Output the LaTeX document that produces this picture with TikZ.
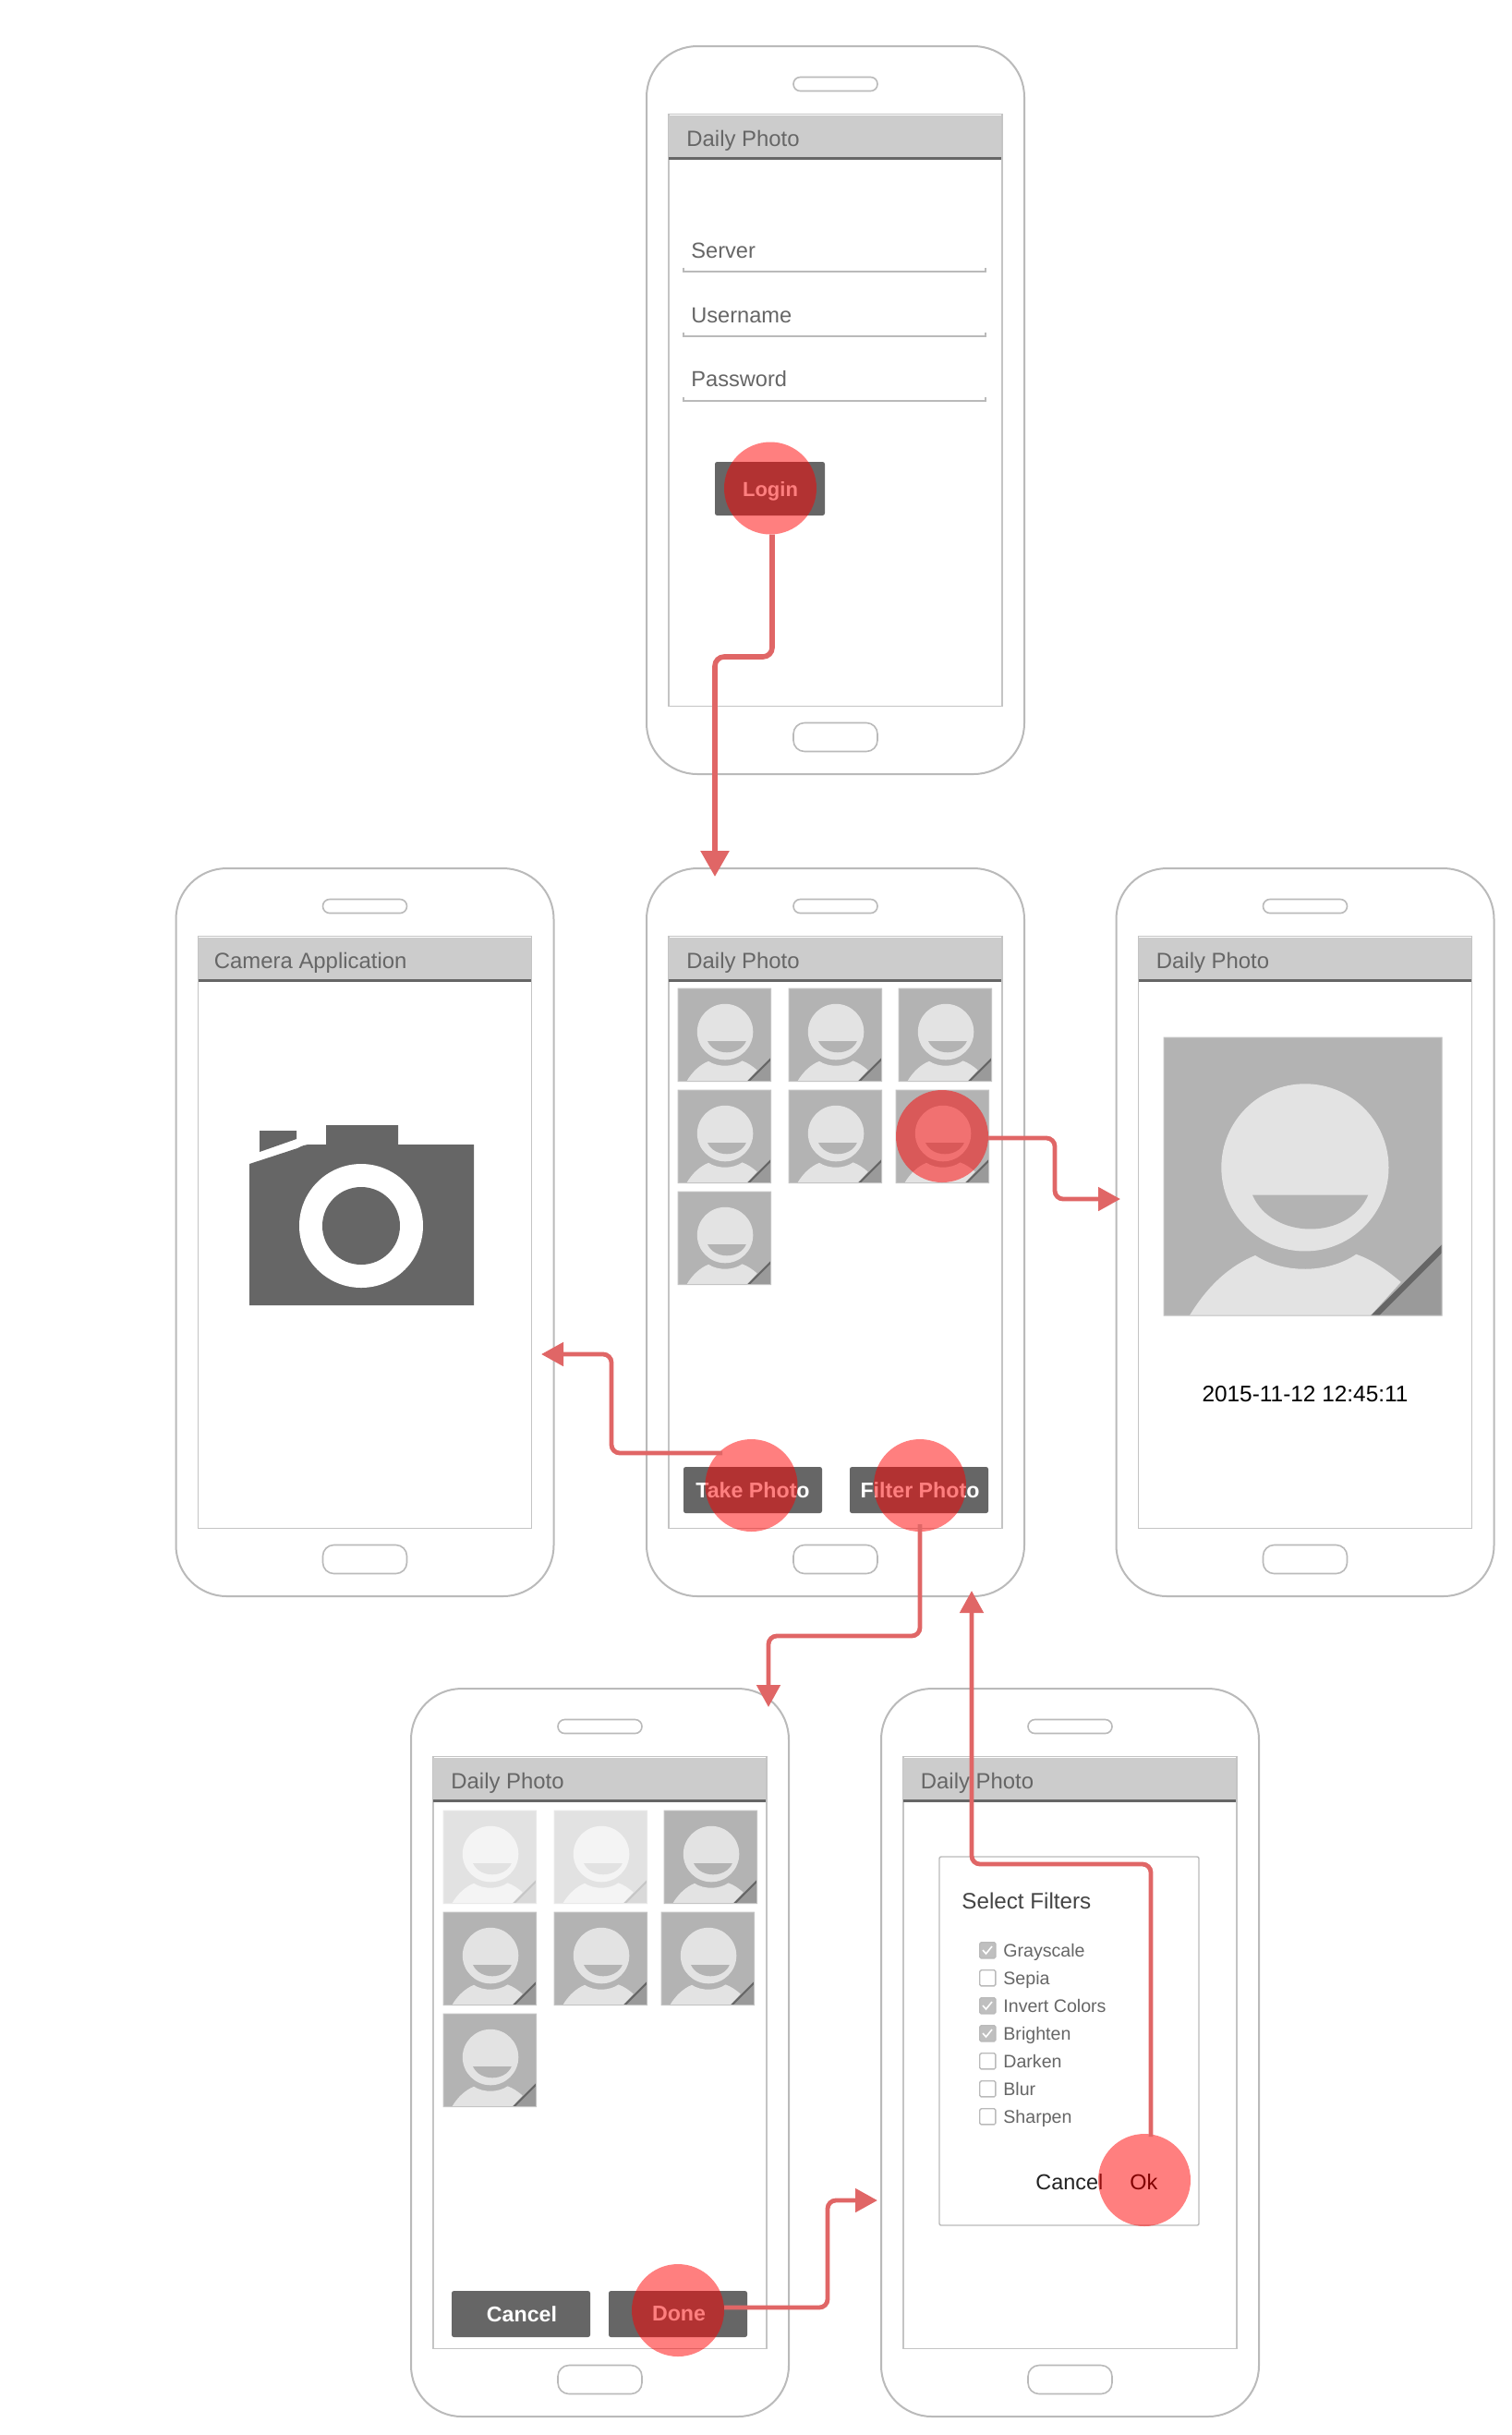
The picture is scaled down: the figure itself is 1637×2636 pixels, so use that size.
\documentclass[tikz,border=0pt]{standalone}
\usepackage{fontspec}
\setmainfont{Liberation Sans}
\usetikzlibrary{arrows.meta}
\definecolor{edge}{HTML}{BABABA}
\definecolor{screenedge}{HTML}{C4C4C4}
\definecolor{barfill}{HTML}{CCCCCC}
\definecolor{ink}{HTML}{666666}
\definecolor{darkink}{HTML}{444444}
\definecolor{nearblack}{HTML}{222222}
\definecolor{thumbbg}{HTML}{B3B3B3}
\definecolor{thumbfg}{HTML}{E3E3E3}
\definecolor{thumbfold}{HTML}{9A9A9A}
\definecolor{connred}{HTML}{E06666}
\definecolor{checkfill}{HTML}{BFBFBF}
\tikzset{
  phonebody/.style={draw=edge,line width=1pt,rounded corners=27.5pt,minimum width=204.5pt,minimum height=394pt,anchor=north west,inner sep=0pt,outer sep=0pt},
  screenbox/.style={draw=screenedge,line width=.7pt,minimum width=180.5pt,minimum height=320.5pt,anchor=north west,inner sep=0pt,outer sep=0pt},
  titlebar/.style={fill=barfill,minimum width=180pt,minimum height=23.5pt,anchor=north west,inner sep=0pt,outer sep=0pt},
  speaker/.style={draw=edge,line width=.8pt,rounded corners=3.7pt,minimum width=45.5pt,minimum height=7.5pt,anchor=north west,inner sep=0pt,outer sep=0pt},
  homebtn/.style={draw=edge,line width=.8pt,rounded corners=6pt,minimum width=45.5pt,minimum height=15.5pt,anchor=north west,inner sep=0pt,outer sep=0pt},
  titletext/.style={anchor=base west,inner sep=0pt,text=ink,font=\fontsize{11.95}{14}\selectfont},
  fieldtext/.style={anchor=base west,inner sep=0pt,text=ink,font=\fontsize{11.8}{14}\selectfont},
  filterlabel/.style={anchor=base west,inner sep=0pt,text=ink,font=\fontsize{9.8}{12}\selectfont},
  btn/.style={fill=ink,rounded corners=1.2pt,anchor=north west,inner sep=0pt,outer sep=0pt,minimum width=75pt,minimum height=25pt},
  btntext/.style={inner sep=0pt,text=white,font=\fontsize{11.6}{14}\selectfont\bfseries},
  tap/.style={circle,fill=red,fill opacity=.5,draw=none,minimum size=50pt,inner sep=0pt,outer sep=0pt},
  conn/.style={draw=connred,line width=2.4pt,rounded corners=4.5pt,-{Triangle[length=12pt,width=12.5pt,fill=connred]}},
  connbig/.style={draw=connred,line width=2.8pt,rounded corners=5pt,-{Triangle[length=14pt,width=15pt,fill=connred]}},
  checkbox/.style={draw=edge,line width=.7pt,rounded corners=.8pt,minimum size=8.6pt,inner sep=0pt,anchor=north west},
}
\newcommand{\phonebox}[5][43]{% title offset; name, x, y, title
  \node[phonebody] (#2) at (#3,#4) {};
  \node[speaker] (#2spk) at ({#3+159},{#4+33.5}) {};
  \node[homebtn] (#2home) at ({#3+159},{#4+732.5}) {};
  \node[screenbox] (#2scr) at ({#3+24},{#4+73.5}) {};
  \node[titlebar] (#2bar) at ({#3+24},{#4+74.5}) {};
  \draw[ink,line width=1.25pt] ({#3+24},{#4+121.5}) -- ({#3+384},{#4+121.5});
  \node[titletext] (#2title) at ({#3+#1},{#4+108}) {#5};
}
\newcommand{\thumbpic}[4]{% x, y, size, opacity
  \begin{scope}[shift={(#1,#2)},x=#3*0.5pt,y=-#3*0.5pt,opacity=#4,transparency group]
    \fill[thumbbg] (0,0) rectangle (1,1);
    \fill[thumbfg] (.508,.468) circle[radius=.301];
    \fill[thumbbg] (.319,.567) .. controls (.39,.73) and (.665,.73) .. (.735,.567) -- cycle;
    \fill[thumbfg] (.093,1) .. controls (.16,.89) and (.24,.82) .. (.329,.784)
       .. controls (.43,.85) and (.59,.85) .. (.692,.78)
       .. controls (.75,.80) and (.80,.835) .. (.853,.88) -- (.744,1) -- cycle;
    \fill[thumbfold] (1,.775) -- (1,1) -- (.775,1) -- cycle;
    \fill[ink] (1,.745) -- (1,.775) -- (.775,1) -- (.745,1) -- cycle;
    \draw[screenedge,line width=.5pt] (0,0) rectangle (1,1);
  \end{scope}
}
\newcommand{\filterrow}[4]{% name, y, label, checked
  \ifnum#4=1
    \node[checkbox,fill=checkfill] (#1box) at (1060,#2) {};
    \draw[white,line width=.8pt] (1064,{#2+9}) -- (1067.5,{#2+13}) -- (1074,{#2+5});
  \else
    \node[checkbox] (#1box) at (1060,#2) {};
  \fi
  \node[filterlabel] (#1) at (1086,{#2+16}) {#3};
}
\begin{document}
\begin{tikzpicture}[x=0.5pt,y=-0.5pt]
\useasboundingbox (0,0) rectangle (1637,2636);
\fill[white] (0,0) rectangle (1637,2636);

% phones
\phonebox{login}{700}{50}{Daily Photo}
\phonebox{grid}{700}{940}{Daily Photo}
\phonebox[41]{camera}{190.5}{940}{Camera Application}
\phonebox{detail}{1208.5}{940}{Daily Photo}
\phonebox{pick}{445}{1828}{Daily Photo}
\phonebox[42.5]{filters}{954}{1828}{Daily Photo}

% login screen
\node[fieldtext] (srv) at (748,279) {Server};
\node[fieldtext] (usr) at (748,349) {Username};
\node[fieldtext] (pwd) at (748,418.5) {Password};
\foreach \ly in {293.5,363.5,433.5}{
  \draw[edge,line width=1pt] (739.5,\ly-4) -- (739.5,\ly) -- (1067,\ly) -- (1067,\ly-4);
}
\node[btn,minimum width=59.5pt,minimum height=29pt] (loginbtn) at (774,500) {};
\node[btntext,font=\fontsize{11}{14}\selectfont\bfseries] (logintxt) at (834,532) {Login};
\node[tap] (tapLogin) at (834,528.5) {};

% grid
\foreach \tx/\ty in {734/1070,854/1070,973/1070,734/1180,854/1180,970/1180,734/1290}{
  \thumbpic{\tx}{\ty}{100.5}{1}
}
\node[btn] (takebtn) at (740,1588) {};
\node[btntext] (taketxt) at (815,1613) {Take Photo};
\node[btn] (filterbtn) at (920,1588) {};
\node[btntext] (filtertxt) at (996,1613) {Filter Photo};
\node[tap] (tapThumb) at (1020,1230) {};
\node[tap] (tapTake) at (813.5,1608) {};
\node[tap] (tapFilter) at (996,1608) {};

% camera
\fill[ink] (270,1260) -- (322,1243) .. controls (328,1240) and (330,1239) .. (337,1239) -- (353,1239) -- (353,1218) -- (431,1218) -- (431,1239) -- (513,1239) -- (513,1413) -- (270,1413) -- cycle;
\fill[ink] (281,1224) -- (321,1224) -- (321,1233) -- (281,1247) -- cycle;
\fill[white] (391,1327) circle[radius=67];
\fill[ink] (391,1327) circle[radius=42];

% detail
\thumbpic{1260}{1123}{301}{1}
\node[anchor=center,inner sep=0pt,text=black,font=\fontsize{12.2}{14}\selectfont] (stamp) at (1413,1509) {2015-11-12 12:45:11};

% pick
\foreach \tx/\ty/\op in {480/1960/.37,600/1960/.37,719/1960/1,480/2070/1,600/2070/1,716/2070/1,480/2180/1}{
  \thumbpic{\tx}{\ty}{100.5}{\op}
}
\node[btn] (cancelbtn) at (489,2480) {};
\node[btntext] (canceltxt) at (565,2505) {Cancel};
\node[btn] (donebtn) at (659,2480) {};
\node[btntext] (donetxt) at (735,2505) {Done};
\node[tap] (tapDone) at (734,2501) {};

% filters dialog
\node[draw=edge,line width=.7pt,rounded corners=1pt,minimum width=140.5pt,minimum height=199.5pt,anchor=north west,inner sep=0pt,outer sep=0pt] (dialog) at (1017,2010) {};
\node[anchor=base west,inner sep=0pt,text=darkink,font=\fontsize{12.1}{14}\selectfont] (seltitle) at (1041,2066) {Select Filters};
\filterrow{fgray}{2102}{Grayscale}{1}
\filterrow{fsepia}{2132}{Sepia}{0}
\filterrow{finvert}{2162}{Invert Colors}{1}
\filterrow{fbright}{2192}{Brighten}{1}
\filterrow{fdark}{2222}{Darken}{0}
\filterrow{fblur}{2252}{Blur}{0}
\filterrow{fsharp}{2282}{Sharpen}{0}
\node[anchor=base west,inner sep=0pt,text=nearblack,font=\fontsize{11.7}{14}\selectfont] (cncl) at (1121,2370) {Cancel};
\node[anchor=base west,inner sep=0pt,text=black,font=\fontsize{11.7}{14}\selectfont] (okt) at (1223,2370) {Ok};
\node[tap] (tapOk) at (1239,2360) {};

% connector ends
\coordinate (tipGrid) at (774,949);
\coordinate (tipDetail) at (1213,1298);
\coordinate (tipCamera) at (586,1466);
\coordinate (tipPick) at (832,1848);
\coordinate (tipFilters) at (950,2382);
\coordinate (tipBack) at (1052,1722);

\draw[connbig] ([xshift=1pt]tapLogin.south) -- (836,711) -- (774,711) -- (tipGrid);
\draw[conn] ([yshift=-1pt]tapThumb.east) -- (1142,1232) -- (1142,1298) -- (tipDetail);
\draw[conn] (782,1573) -- (662,1573) -- (662,1466) -- (tipCamera);
\draw[conn] ([yshift=4pt]tapFilter.south) -- (996,1771) -- (832,1771) -- (tipPick);
\draw[conn] ([yshift=1.5pt]tapDone.east) -- (896,2498) -- (896,2382) -- (tipFilters);
\draw[conn] (1246,2313) -- (1246,2018) -- (1052,2018) -- (tipBack);
\end{tikzpicture}
\end{document}
